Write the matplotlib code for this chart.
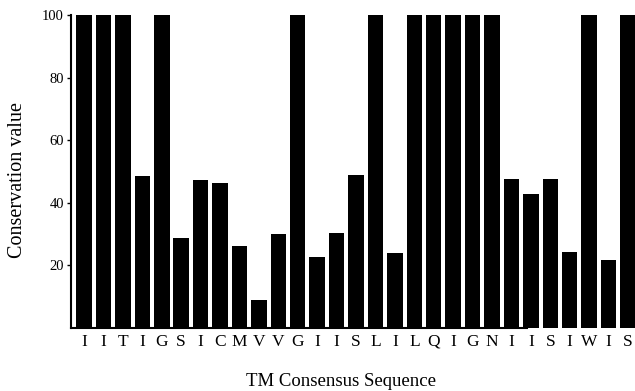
import matplotlib
matplotlib.use("Agg")
import matplotlib.pyplot as plt

residues = ["I", "I", "T", "I", "G", "S", "I", "C", "M", "V", "V", "G", "I", "I", "S",
            "L", "I", "L", "Q", "I", "G", "N", "I", "I", "S", "I", "W", "I", "S"]
conservation = [100, 100, 100, 48.5, 100, 28.7, 47.4, 46.4, 26.3, 8.8, 30.1, 100, 22.6, 30.2, 49.0,
                100, 24.0, 100, 100, 100, 100, 100, 47.6, 42.7, 47.6, 24.2, 100, 21.7, 100]
yticks = [20, 40, 60, 80, 100]

plt.rcParams['font.family'] = ['Liberation Serif', 'DejaVu Serif']

fig = plt.figure(figsize=(6.35, 3.91), dpi=100)
H = 391
ax = fig.add_axes([71/635, (H-328)/H, 1 - 71/635, (328-15)/H])

x = list(range(len(residues)))
ax.bar(x, conservation, width=0.8, color="black", edgecolor="none")
ax.set_xlim(-0.67, 28.36)
ax.set_ylim(0, 100)
ax.set_yticks(yticks)
ax.set_yticklabels([str(v) for v in yticks], fontsize=10.5)
ax.set_xticks(x)
ax.set_xticklabels(residues, fontsize=12.5)
ax.tick_params(axis="x", length=0, pad=4)
ax.tick_params(axis="y", direction="out", length=3, width=1, pad=2)
for s in ["top", "right"]:
    ax.spines[s].set_visible(False)
ax.spines["left"].set_linewidth(1.5)
ax.spines["bottom"].set_linewidth(1.5)
ax.spines["bottom"].set_bounds(-0.67, 22.8)

fig.text(18/635, 1 - 180/H, "Conservation value", rotation=90, ha="center", va="center", fontsize=14.5)
fig.text(341/635, 1 - 382/H, "TM Consensus Sequence", ha="center", va="center", fontsize=13.5)

fig.savefig("out.png", dpi=100)
